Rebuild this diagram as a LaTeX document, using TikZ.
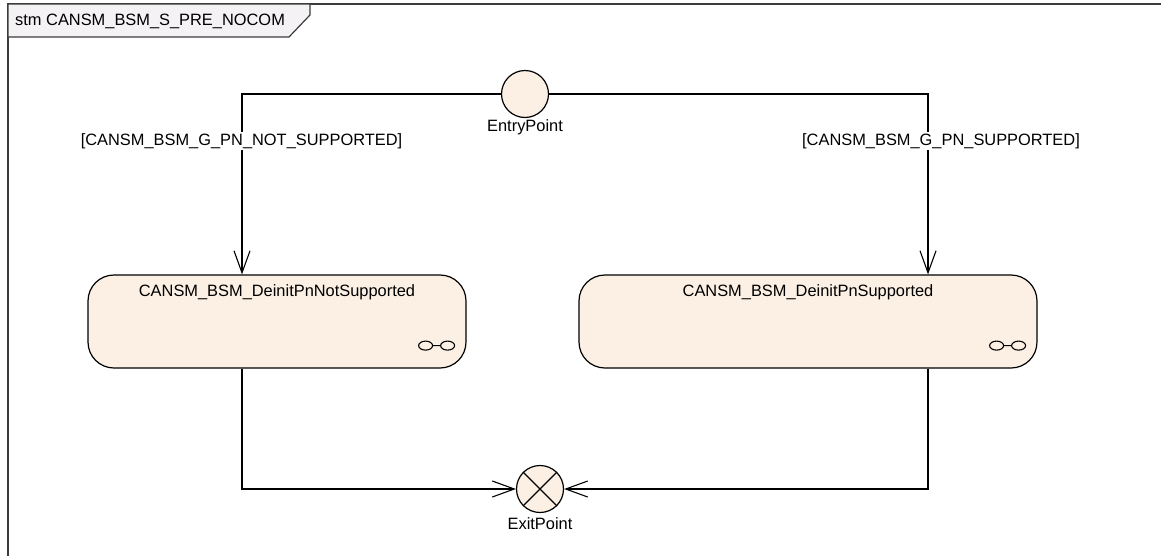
\documentclass[tikz,border=0pt]{standalone}
\usepackage{fontspec}
\setmainfont{Liberation Sans}
\usetikzlibrary{arrows.meta,calc}
\definecolor{statefill}{RGB}{251,240,227}
\definecolor{tabfill}{RGB}{244,242,244}
\definecolor{framecol}{RGB}{60,60,60}
\tikzset{
  every node/.style={font=\fontsize{16.4}{19}\selectfont},
  stbox/.style={draw=black, line width=1.2pt, fill=statefill, rounded corners=26pt, minimum height=93pt, inner sep=0pt},
  pseudo/.style={circle, draw=black, line width=1.2pt, fill=statefill, minimum size=47pt, inner sep=0pt},
  conn/.style={draw=black, line width=1.1pt, -{Straight Barb[length=22pt,width=16pt,line width=1.1pt]}},
  guard/.style={fill=white, inner sep=1.5pt},
  plain/.style={inner sep=0pt}
}
\newcommand{\decompicon}[1]{%
  \draw[line width=1.1pt] ($(#1)+(7,0)$) ellipse (7pt and 4.5pt)
        ($(#1)+(29,0)$) ellipse (7pt and 4.5pt)
        ($(#1)+(14,0)$) -- ($(#1)+(22,0)$);}
\begin{document}
\begin{tikzpicture}[x=1pt,y=-1pt]
\useasboundingbox (0,0) rectangle (1161,555);
\fill[white] (0,0) rectangle (1161,555);
% frame
\draw[framecol, line width=1.8pt] (8,570) -- (8,4) -- (1175,4);
% tab
\draw[framecol, line width=1.2pt, fill=tabfill] (8,4) -- (310,4) -- (310,15) -- (289,37) -- (8,37) -- cycle;
\node[plain, anchor=west] (title) at (15,21) {stm CANSM\_BSM\_S\_PRE\_NOCOM};
% states
\node[stbox, minimum width=378pt] (s1) at (277,321.5) {};
\node[plain] (s1t) at ($(s1.north)+(0,18)$) {CANSM\_BSM\_DeinitPnNotSupported};
\node[stbox, minimum width=458pt] (s2) at (808,321.5) {};
\node[plain] (s2t) at ($(s2.north)+(0,18)$) {CANSM\_BSM\_DeinitPnSupported};
\coordinate (i1) at ($(s1.south east)+(-48,-23)$);
\coordinate (i2) at ($(s2.south east)+(-48,-23)$);
\decompicon{i1}
\decompicon{i2}
% entry / exit
\node[pseudo] (entry) at (525,94) {};
\node[plain] (entryl) at (525,127) {EntryPoint};
\node[pseudo] (exit) at (540,489) {};
\draw[line width=1.2pt] (exit.north east) -- (exit.south west) (exit.north west) -- (exit.south east);
\node[plain] (exitl) at (540,524) {ExitPoint};
% connectors
\coordinate (a1) at (242,94);
\coordinate (a2) at (928,94);
\draw[conn] (entry.west) -- (a1) -- (a1 |- s1.north);
\draw[conn] (entry.east) -- (a2) -- (a2 |- s2.north);
\coordinate (b1) at (242,489);
\coordinate (b2) at (928,489);
\draw[conn] (b1 |- s1.south) -- (b1) -- (exit.west);
\draw[conn] (b2 |- s2.south) -- (b2) -- (exit.east);
% guards
\node[guard] (g1) at (241.5,141) {[CANSM\_BSM\_G\_PN\_NOT\_SUPPORTED]};
\node[guard] (g2) at (941,141) {[CANSM\_BSM\_G\_PN\_SUPPORTED]};
\end{tikzpicture}
\end{document}
